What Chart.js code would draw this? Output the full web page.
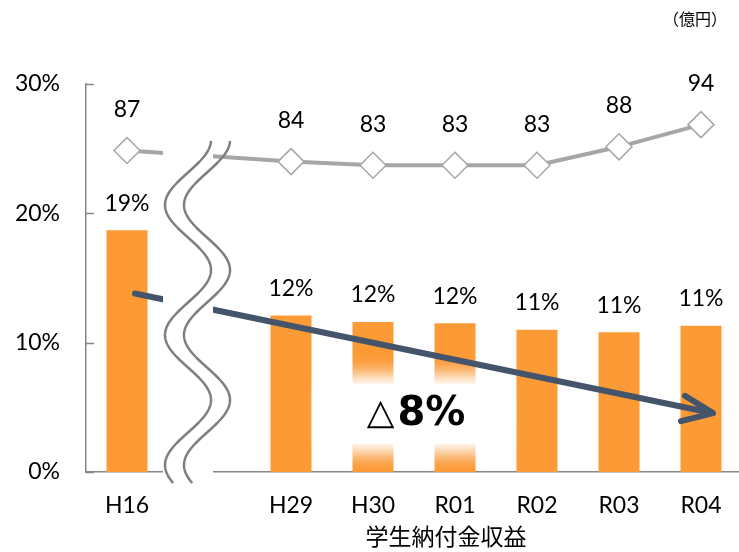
<!DOCTYPE html>
<html><head><meta charset="utf-8">
<script src="https://cdn.jsdelivr.net/npm/chart.js@4"></script>
<style>
html,body{margin:0;padding:0;background:#fff;overflow:hidden;width:739px;height:552px}
#wrap{position:absolute;left:0;top:0;width:742px;height:552px}
</style>
</head><body><div id="wrap"><canvas id="c" width="742" height="552"></canvas></div>
<script>
// ---- data ----
const categories = ['H16', '', 'H29', 'H30', 'R01', 'R02', 'R03', 'R04'];
const ratioValues = [18.7, null, 12.1, 11.6, 11.5, 11.0, 10.8, 11.3];   // %
const incomeValues = [87, null, 84, 83, 83, 83, 88, 94];               // 億円
const yTicks = [0, 10, 20, 30];
const unitLabel = '（億円）';
const axisTitle = '学生納付金収益';
const changeSymbol = '△';
const changeValue = '8%';

const FONT = "Lato, 'Noto Sans CJK JP', sans-serif";
const AXIS = '#868686';

const deco = {
  id: 'deco',
  afterDatasetsDraw(chart) {
    const {ctx, chartArea: ca, scales: {x, y}} = chart;
    ctx.save();
    // inside tick marks on y axis
    ctx.strokeStyle = AXIS; ctx.lineWidth = 1.5;
    yTicks.forEach(v => {
      const py = Math.round(y.getPixelForValue(v)) + 0.5;
      ctx.beginPath(); ctx.moveTo(ca.left, py); ctx.lineTo(ca.left + 8, py); ctx.stroke();
    });
    // labels
    ctx.fillStyle = '#000'; ctx.font = '23px ' + FONT;
    ctx.textAlign = 'center'; ctx.textBaseline = 'middle';
    chart.getDatasetMeta(0).data.forEach((el, i) => {
      if (ratioValues[i] == null) return;
      ctx.fillText(Math.round(ratioValues[i]) + '%', el.x, el.y - 27);
    });
    chart.getDatasetMeta(1).data.forEach((el, i) => {
      if (incomeValues[i] == null) return;
      ctx.fillText(String(incomeValues[i]), el.x, el.y - 41);
    });
    // unit label & axis title
    ctx.font = '16px ' + FONT;
    ctx.fillText(unitLabel, 695, 20);
    ctx.font = '23px ' + FONT;
    ctx.fillText(axisTitle, 446, 538);

    // glow behind change label
    const gx = x.getPixelForValue(3.5), gy = y.getPixelForValue(4.5);
    ctx.save();
    ctx.shadowColor = '#fff'; ctx.shadowBlur = 24; ctx.fillStyle = '#fff';
    for (let k = 0; k < 3; k++) ctx.fillRect(gx - 80, gy - 30, 160, 60);
    ctx.restore();

    // trend arrow
    const x0 = x.getPixelForValue(0) + 8, y0 = y.getPixelForValue(13.8);
    const x1 = x.getPixelForValue(7) + 12, y1 = y.getPixelForValue(4.55);
    ctx.strokeStyle = '#44546A'; ctx.lineWidth = 6; ctx.lineCap = 'round'; ctx.lineJoin = 'round';
    ctx.beginPath(); ctx.moveTo(x0, y0); ctx.lineTo(x1 - 2, y1 - 0.4); ctx.stroke();
    const ang = Math.atan2(y1 - y0, x1 - x0) + Math.PI - 0.05;
    const L = 33, spread = 0.4;
    ctx.beginPath();
    ctx.moveTo(x1 + L * Math.cos(ang - spread), y1 + L * Math.sin(ang - spread));
    ctx.lineTo(x1, y1);
    ctx.lineTo(x1 + L * Math.cos(ang + spread), y1 + L * Math.sin(ang + spread));
    ctx.stroke();

    // change label text
    ctx.textBaseline = 'middle'; ctx.textAlign = 'left'; ctx.fillStyle = '#000';
    const f1 = "36px 'DejaVu Sans'", f2 = "bold 40px 'DejaVu Sans'";
    ctx.font = f1; const w1 = ctx.measureText(changeSymbol).width;
    ctx.font = f2; const w2 = ctx.measureText(changeValue).width;
    const tx = gx + 2 - (w1 + 3 + w2) / 2;
    ctx.font = f1; ctx.fillText(changeSymbol, tx, gy + 1);
    ctx.font = f2; ctx.fillText(changeValue, tx + w1 + 3, gy + 1);

    // axis break
    const bx = x.getPixelForValue(1);
    ctx.fillStyle = '#fff';
    ctx.fillRect(bx - 46, 140, 50, 345);
    ctx.strokeStyle = '#7F7F7F'; ctx.lineWidth = 2.5; ctx.lineCap = 'butt';
    [0, 19].forEach(off => {
      ctx.beginPath();
      for (let py = 141; py <= 483; py += 1) {
        const px = bx - 21 + off + 23 * Math.cos(2 * Math.PI * (py - 140) / 130);
        if (py === 141) ctx.moveTo(px, py); else ctx.lineTo(px, py);
      }
      ctx.stroke();
    });
    ctx.restore();
  }
};

new Chart(document.getElementById('c'), {
  type: 'bar',
  data: {
    labels: categories,
    datasets: [
      {
        type: 'bar', data: ratioValues, yAxisID: 'y', order: 2,
        backgroundColor: '#FC9A36', borderWidth: 0,
        barPercentage: 0.5, categoryPercentage: 1.0
      },
      {
        type: 'line', data: incomeValues, yAxisID: 'y2', order: 1,
        borderColor: '#A6A6A6', borderWidth: 4, spanGaps: true, tension: 0,
        pointStyle: 'rectRot', pointRadius: 13, pointHoverRadius: 13, pointBorderWidth: 1.5,
        pointBackgroundColor: '#fff', pointBorderColor: '#A6A6A6', clip: false
      }
    ]
  },
  options: {
    responsive: false, animation: false,
    layout: {autoPadding: false, padding: {top: 84, left: 0, right: 0, bottom: 0}},
    plugins: {legend: {display: false}, tooltip: {enabled: false}},
    scales: {
      x: {
        offset: true,
        grid: {display: false, drawTicks: false},
        border: {display: true, color: AXIS, width: 1.5},
        ticks: {color: '#000', font: {size: 23, family: FONT}, padding: 20, maxRotation: 0, autoSkip: false},
        afterFit(s) { s.height = 80; s.paddingLeft = 0; s.paddingRight = 0; }
      },
      y: {
        min: 0, max: 30,
        grid: {display: false, drawTicks: false},
        border: {display: true, color: AXIS, width: 1.5},
        ticks: {stepSize: 10, color: '#000', font: {size: 23, family: FONT}, padding: 26,
                callback: v => v + '%'},
        afterFit(s) { s.width = 86; s.paddingTop = 0; s.paddingBottom = 0; }
      },
      y2: {min: 0, max: 105, display: false}
    }
  },
  plugins: [deco]
});
</script>
</body></html>
